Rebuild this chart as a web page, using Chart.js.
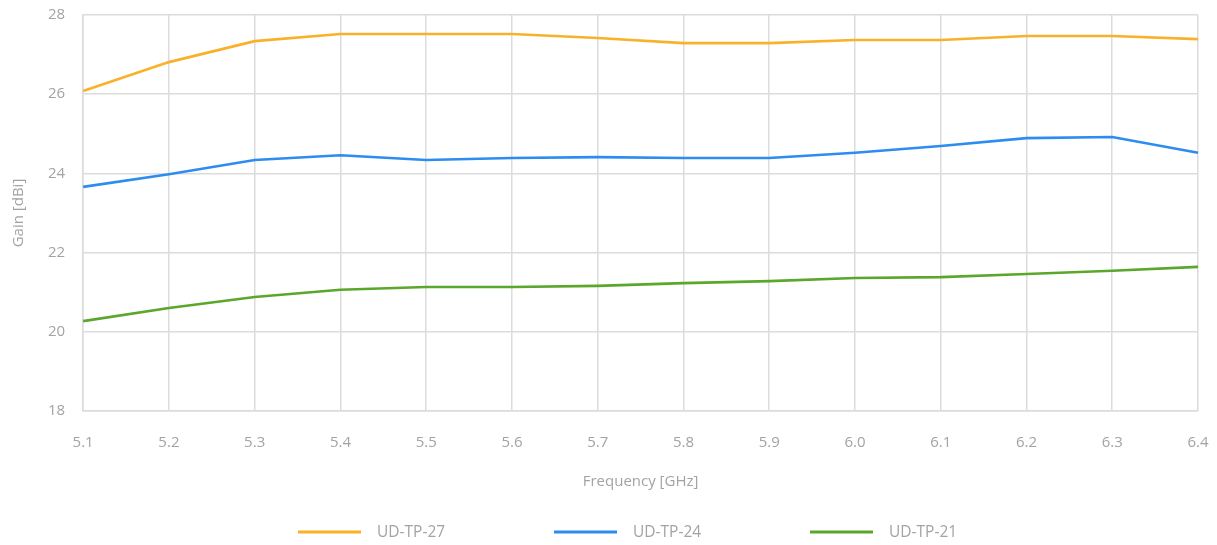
<!DOCTYPE html>
<html>
<head>
<meta charset="utf-8">
<script src="https://cdn.jsdelivr.net/npm/chart.js@4/dist/chart.umd.min.js"></script>
<style>
  html, body { margin: 0; padding: 0; background: #fff; }
  #wrap { width: 1217px; height: 545px; }
</style>
</head>
<body>
<div id="wrap"><canvas id="chart"></canvas></div>
<script>
var frequencies = ['5.1', '5.2', '5.3', '5.4', '5.5', '5.6', '5.7', '5.8', '5.9', '6.0', '6.1', '6.2', '6.3', '6.4'];
var gain27 = [26.08, 26.81, 27.34, 27.52, 27.52, 27.52, 27.42, 27.29, 27.29, 27.37, 27.37, 27.47, 27.47, 27.39];
var gain24 = [23.66, 23.98, 24.34, 24.46, 24.34, 24.39, 24.41, 24.39, 24.39, 24.52, 24.69, 24.89, 24.92, 24.52];
var gain21 = [20.27, 20.60, 20.88, 21.06, 21.13, 21.13, 21.16, 21.23, 21.28, 21.36, 21.38, 21.46, 21.54, 21.64];

Chart.defaults.font.family = "'Open Sans', sans-serif";
Chart.defaults.color = '#a3a3a3';

// legend spread wide under the chart, one slot per dataset
var bottomLegend = {
    id: 'bottomLegend',
    afterDraw: function (chart) {
        var ctx = chart.ctx;
        var left = 298, step = 256, y = 532;
        ctx.save();
        ctx.font = "15.5px 'Open Sans', sans-serif";
        ctx.textBaseline = 'middle';
        chart.data.datasets.forEach(function (ds, i) {
            var x = left + i * step;
            ctx.fillStyle = ds.borderColor;
            ctx.fillRect(x, y - 1.5, 63, 3);
            ctx.fillStyle = '#a3a3a3';
            ctx.fillText(ds.label, x + 79, y + 1);
        });
        ctx.restore();
    }
};

function renderChart(name) {
    var ctx = document.getElementById(name).getContext('2d');
    var gridOpts = { color: '#dcdcdc', lineWidth: 1.5, drawTicks: false };
    return new Chart(ctx, {
        type: 'line',
        data: {
            labels: frequencies,
            datasets: [{
                label: 'UD-TP-27',
                data: gain27,
                borderColor: '#f9b12a',
                backgroundColor: '#f9b12a',
                borderWidth: 2.6
            },
            {
                label: 'UD-TP-24',
                data: gain24,
                borderColor: '#2c8cf0',
                backgroundColor: '#2c8cf0',
                borderWidth: 2.6
            },
            {
                label: 'UD-TP-21',
                data: gain21,
                borderColor: '#5aa72c',
                backgroundColor: '#5aa72c',
                borderWidth: 2.6
            }]
        },
        options: {
            responsive: true,
            maintainAspectRatio: false,
            animation: false,
            elements: { point: { radius: 0 }, line: { tension: 0 } },
            layout: { padding: { top: 0, right: 0, left: 0, bottom: 54 } },
            plugins: {
                tooltip: { enabled: false },
                legend: { display: false }
            },
            scales: {
                x: {
                    grid: gridOpts,
                    border: { color: '#dcdcdc', width: 1.5 },
                    ticks: { padding: 23, font: { size: 15 }, maxRotation: 0 },
                    title: { display: true, text: 'Frequency [GHz]', font: { size: 15 }, padding: { top: 0, bottom: 0 } },
                    afterFit: function (scale) {
                        scale.height = 80;
                        scale.paddingLeft = 0;
                        scale.paddingRight = 19;
                    }
                },
                y: {
                    min: 18,
                    max: 28,
                    grid: gridOpts,
                    border: { color: '#dcdcdc', width: 1.5 },
                    ticks: { stepSize: 2, padding: 18, font: { size: 15 } },
                    title: { display: true, text: 'Gain [dBi]', font: { size: 15 }, padding: { top: 10, bottom: 2 } },
                    afterFit: function (scale) {
                        scale.paddingTop = 15;
                        scale.paddingBottom = 0;
                    }
                }
            }
        },
        plugins: [bottomLegend]
    });
}

renderChart('chart');
</script>
</body>
</html>
